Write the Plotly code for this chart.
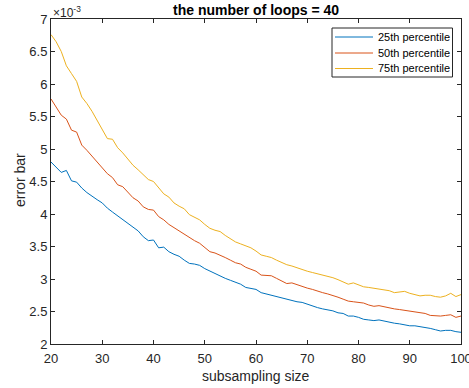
import plotly.graph_objects as go

# x values: subsampling size
subsampling_size = list(range(20, 101))

# error bar values, in units of 1e-3
p25 = [4.80, 4.72, 4.64, 4.67, 4.51, 4.49, 4.40, 4.33, 4.27, 4.22,
       4.17, 4.09, 4.03, 3.97, 3.92, 3.86, 3.80, 3.74, 3.65, 3.59,
       3.60, 3.48, 3.49, 3.42, 3.38, 3.35, 3.29, 3.24, 3.23, 3.21,
       3.16, 3.12, 3.08, 3.04, 3.01, 2.98, 2.95, 2.92, 2.87, 2.85,
       2.84, 2.79, 2.77, 2.75, 2.73, 2.71, 2.68, 2.66, 2.65, 2.64,
       2.61, 2.58, 2.56, 2.54, 2.53, 2.51, 2.48, 2.47, 2.43, 2.43,
       2.41, 2.38, 2.37, 2.36, 2.37, 2.35, 2.33, 2.32, 2.31, 2.29,
       2.28, 2.28, 2.27, 2.25, 2.24, 2.22, 2.20, 2.21, 2.21, 2.19,
       2.18]
p50 = [5.77, 5.65, 5.52, 5.46, 5.29, 5.26, 5.06, 4.98, 4.89, 4.81,
       4.72, 4.62, 4.56, 4.45, 4.42, 4.33, 4.25, 4.20, 4.11, 4.07,
       4.06, 3.96, 3.91, 3.84, 3.79, 3.74, 3.69, 3.63, 3.59, 3.55,
       3.48, 3.42, 3.40, 3.37, 3.33, 3.29, 3.25, 3.23, 3.18, 3.15,
       3.12, 3.06, 3.05, 3.05, 3.01, 2.97, 2.93, 2.94, 2.91, 2.88,
       2.86, 2.84, 2.81, 2.79, 2.77, 2.75, 2.72, 2.69, 2.66, 2.65,
       2.64, 2.63, 2.60, 2.58, 2.59, 2.57, 2.55, 2.54, 2.53, 2.52,
       2.51, 2.50, 2.48, 2.47, 2.44, 2.43, 2.43, 2.44, 2.45, 2.41,
       2.43]
p75 = [6.76, 6.65, 6.50, 6.28, 6.16, 6.04, 5.80, 5.70, 5.58, 5.44,
       5.30, 5.16, 5.15, 5.02, 4.94, 4.84, 4.75, 4.68, 4.60, 4.53,
       4.50, 4.40, 4.31, 4.26, 4.17, 4.12, 4.08, 3.99, 3.95, 3.91,
       3.84, 3.78, 3.75, 3.73, 3.67, 3.62, 3.57, 3.54, 3.51, 3.48,
       3.43, 3.37, 3.35, 3.33, 3.29, 3.25, 3.22, 3.20, 3.17, 3.15,
       3.12, 3.10, 3.08, 3.07, 3.05, 3.02, 2.99, 2.96, 2.92, 2.94,
       2.91, 2.88, 2.87, 2.86, 2.84, 2.83, 2.82, 2.79, 2.80, 2.81,
       2.78, 2.76, 2.74, 2.75, 2.75, 2.73, 2.72, 2.74, 2.78, 2.73,
       2.76]

series_names = ["25th percentile", "50th percentile", "75th percentile"]
series_colors = ["#0072BD", "#D95319", "#EDB120"]
x_ticks = [20, 30, 40, 50, 60, 70, 80, 90, 100]
y_ticks = [2, 2.5, 3, 3.5, 4, 4.5, 5, 5.5, 6, 6.5, 7]
y_tick_labels = ["2", "2.5", "3", "3.5", "4", "4.5", "5", "5.5", "6", "6.5", "7"]

FONT = "Liberation Sans, Arial, sans-serif"
AX = "#262626"
W, H = 469, 388
ML, MR, MT, MB = 51, 8, 19, 44
PW, PH = W - ML - MR, H - MT - MB


def px_x(p):  # pixel -> paper x
    return (p - ML) / PW


def px_y(p):  # pixel -> paper y
    return 1 - (p - MT) / PH


fig = go.Figure()
for name, vals, col in zip(series_names, [p25, p50, p75], series_colors):
    fig.add_trace(go.Scatter(x=subsampling_size, y=vals, mode="lines", name=name,
                             line=dict(color=col, width=1), showlegend=False))

axis_common = dict(showgrid=False, zeroline=False, showline=True, linecolor=AX, linewidth=1,
                   mirror="allticks", ticks="inside", ticklen=4, tickcolor=AX, automargin=False,
                   tickfont=dict(family=FONT, size=13, color=AX))

fig.update_layout(
    width=W, height=H,
    margin=dict(l=ML, r=MR, t=MT, b=MB, autoexpand=False),
    paper_bgcolor="white", plot_bgcolor="white",
    xaxis=dict(range=[20, 100], tickvals=x_ticks, ticklabeloverflow="allow", ticklabelstandoff=2,
               **axis_common),
    yaxis=dict(range=[2, 7], tickvals=y_ticks, ticktext=y_tick_labels,
               **axis_common),
    showlegend=False,
)

# title
fig.add_annotation(text="<b>the number of loops = 40</b>", xref="paper", yref="paper",
                   x=px_x(256), y=px_y(10), xanchor="center", yanchor="middle", showarrow=False,
                   font=dict(family=FONT, size=14, color="black"))

# axis titles
fig.add_annotation(text="subsampling size", xref="paper", yref="paper",
                   x=px_x(256), y=px_y(376), xanchor="center", yanchor="middle", showarrow=False,
                   font=dict(family=FONT, size=14, color=AX))
fig.add_annotation(text="error bar", xref="paper", yref="paper", textangle=-90,
                   x=px_x(20), y=px_y(180), xanchor="center", yanchor="middle", showarrow=False,
                   font=dict(family=FONT, size=14, color=AX))

# exponent label
fig.add_annotation(text="×10<sup>-3</sup>", xref="paper", yref="paper", x=0.0, y=1.0,
                   xanchor="left", yanchor="bottom", showarrow=False, yshift=-3,
                   font=dict(family=FONT, size=12, color=AX))

# custom legend (box, line samples, labels)
fig.add_shape(type="rect", xref="paper", yref="paper",
              x0=px_x(332), x1=px_x(452.5), y0=px_y(77), y1=px_y(28),
              line=dict(color=AX, width=1), fillcolor="white", layer="above")
row_y = [37, 53, 68.5]
for name, col, ry in zip(series_names, series_colors, row_y):
    fig.add_shape(type="line", xref="paper", yref="paper",
                  x0=px_x(335), x1=px_x(373), y0=px_y(ry), y1=px_y(ry),
                  line=dict(color=col, width=1), layer="above")
    fig.add_annotation(text=name, xref="paper", yref="paper", x=px_x(376), y=px_y(ry),
                       xanchor="left", yanchor="middle", showarrow=False,
                       font=dict(family=FONT, size=11, color="black"))

fig.write_html("out.html")
